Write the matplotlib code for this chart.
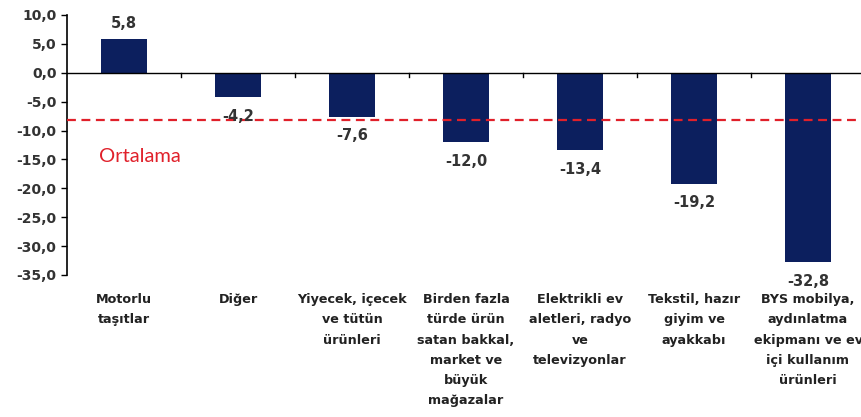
import numpy as np
import matplotlib
matplotlib.use("Agg")
import matplotlib.pyplot as plt
from matplotlib.ticker import FuncFormatter, FixedLocator
import matplotlib.transforms as mtransforms

categories = ["Motorlu\ntaşıtlar", "Diğer", "Yiyecek, içecek\nve tütün\nürünleri",
              "Birden fazla\ntürde ürün\nsatan bakkal,\nmarket ve\nbüyük\nmağazalar",
              "Elektrikli ev\naletleri, radyo\nve\ntelevizyonlar",
              "Tekstil, hazır\ngiyim ve\nayakkabı",
              "BYS mobilya,\naydınlatma\nekipmanı ve ev\niçi kullanım\nürünleri"]
values = [5.8, -4.2, -7.6, -12.0, -13.4, -19.2, -32.8]
ortalama = -8.1
yticks = [10, 5, 0, -5, -10, -15, -20, -25, -30, -35]

fig = plt.figure(figsize=(8.61, 4.17), dpi=100)
ax = fig.add_axes([67/861, 1-275/417, 798/861, 260/417])

x = np.arange(len(values))
ax.bar(x, values, width=0.4, color="#0c1f5e", zorder=2)
ax.axhline(ortalama, color="#e0202a", ls=(0, (4, 2.5)), lw=1.6, zorder=3)
ax.axhline(0, color="black", lw=1.0, zorder=4)

# value labels
for xi, v in zip(x, values):
    lab = f"{v:.1f}".replace(".", ",")
    off = 2.8 if v >= 0 else -3.3
    ax.text(xi, v + off, lab, ha="center", va="center", fontsize=10.5,
            fontweight="bold", color="#333333", zorder=5, family="DejaVu Sans")

ax.text(-0.22, -14.5, "Ortalama", color="#e0202a", fontsize=14.5, va="center",
        ha="left", family=["Lato", "DejaVu Sans"])

ax.set_xlim(-0.5, len(values) - 0.5)
ax.set_ylim(-35, 10)
ax.yaxis.set_major_locator(FixedLocator(yticks))
ax.yaxis.set_major_formatter(FuncFormatter(lambda v, p: f"{v:.1f}".replace(".", ",")))
ax.tick_params(axis="y", labelsize=10, labelcolor="#333333", color="black", length=4, width=1)
for t in ax.get_yticklabels():
    t.set_fontweight("bold")

ax.spines["top"].set_visible(False)
ax.spines["right"].set_visible(False)
ax.spines["bottom"].set_visible(False)
ax.spines["left"].set_color("black")
ax.spines["left"].set_linewidth(1.2)

# small ticks between the categories on the zero line
ax.set_xticks([])
for b in np.arange(0.5, len(values) - 0.5, 1):
    ax.plot([b, b], [0, -0.8], color="black", lw=1, zorder=4, clip_on=False)

trans = mtransforms.blended_transform_factory(ax.transData, ax.transAxes)
for xi, c in zip(x, categories):
    ax.text(xi, -0.07, c, transform=trans, ha="center", va="top", fontsize=9.2,
            fontweight="bold", color="#222222", linespacing=1.72,
            family="DejaVu Sans")

fig.savefig("out.png", dpi=100)
